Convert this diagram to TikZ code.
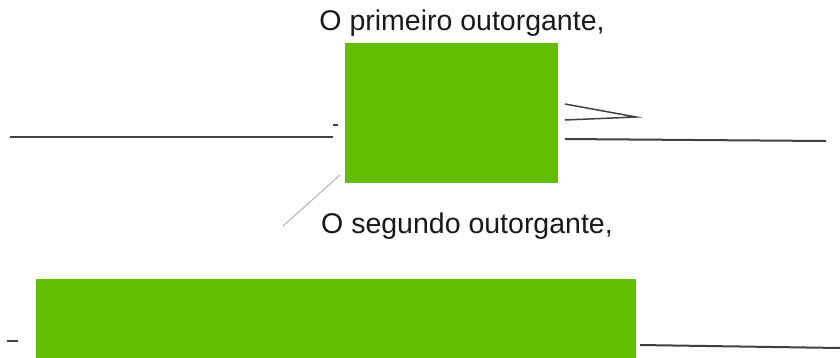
\documentclass[tikz,border=0pt]{standalone}
\usepackage{fontspec}
\setmainfont{Liberation Sans}
\definecolor{redact}{HTML}{62BE00}
\definecolor{ink}{HTML}{404040}
\begin{document}
\begin{tikzpicture}[x=1pt,y=-1pt,
  redbox/.style={fill=redact,draw=none,inner sep=0pt,anchor=north west},
  label/.style={font=\fontsize{28.5}{31}\selectfont,text=black!90,inner sep=0pt},
  stroke/.style={draw=ink,line width=2pt},
  faint/.style={draw=black!30,line width=1pt}]
\useasboundingbox (0,0) rectangle (840,357);
% boxes
\node[redbox,minimum width=213pt,minimum height=140pt] (b1) at (345,43) {};
\node[redbox,minimum width=600pt,minimum height=80pt] (b2) at (36,279) {};
% labels
\node[label] (t1) at (462,23) {O primeiro outorgante,};
\node[label] (t2) at (467,226) {O segundo outorgante,};
% coordinates
\coordinate (l1a) at (10,137);
\coordinate (l1b) at (333,137);
\coordinate (d1a) at (333,125);
\coordinate (d1b) at (338,125);
\coordinate (ar1) at (565,104);
\coordinate (ar2) at (565,120);
\coordinate (arT) at (636,117);
\coordinate (r1a) at (565,139);
\coordinate (r1b) at (826,141);
\coordinate (dg1) at (340,175);
\coordinate (dg2) at (283,226);
\coordinate (s1) at (7,341);
\coordinate (s2) at (18,341);
\coordinate (r2a) at (640,345);
\coordinate (r2b) at (840,348);
% strokes
\draw[stroke] (l1a) -- (l1b);
\draw[stroke,line width=1.5pt] (d1a) -- (d1b);
\draw[stroke,line width=1.5pt] (ar1) -- (arT) -- (ar2);
\draw[stroke] (r1a) -- (r1b);
\draw[faint] (dg1) -- (dg2);
\draw[stroke] (s1) -- (s2);
\draw[stroke] (r2a) -- (r2b);
\end{tikzpicture}
\end{document}
